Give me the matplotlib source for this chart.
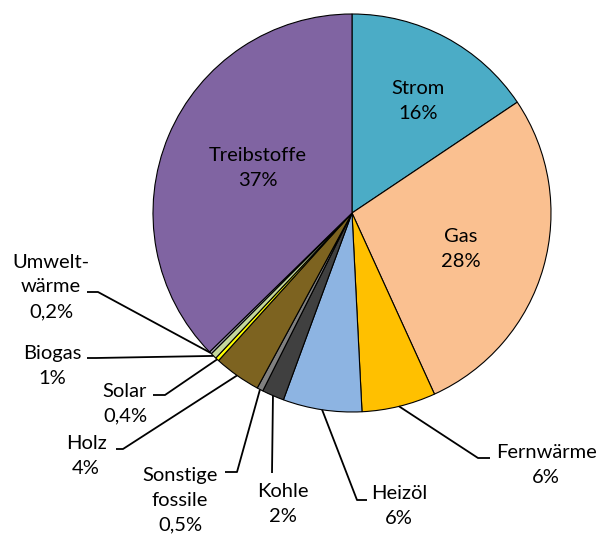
import numpy as np
import matplotlib.pyplot as plt

# Anteile in Prozent, im Uhrzeigersinn ab 12 Uhr
namen = ['Strom', 'Gas', 'Fernwärme', 'Heizöl', 'Kohle', 'Sonstige\nfossile',
         'Holz', 'Solar', 'Biogas', 'Umwelt-\nwärme', 'Treibstoffe']
werte = [15.6, 27.6, 6.0, 6.4, 1.8, 0.5, 3.8, 0.3, 0.5, 0.2, 37.3]
beschriftung = ['16%', '28%', '6%', '6%', '2%', '0,5%', '4%', '0,4%', '1%', '0,2%', '37%']
farben = ['#4BACC6', '#FAC090', '#FFC000', '#8DB4E2', '#404040', '#808080',
          '#7D6320', '#FFFF00', '#C4D79B', '#A5A5B5', '#8064A2']

# Layout in Pixeln (Mitte 352/213, Radius 199)
cx, cy, R = 352, 213, 199
W, H = 601, 537


def p2d(px, py):
    return (px - cx) / R, (cy - py) / R


# Textpositionen innen
innen = {0: (418, 101), 1: (461, 249), 10: (258, 168)}
# Textpositionen aussen + Knick + Ende der Fuehrungslinie
aussen = {
    2: ((546, 465), (478, 458), (490, 458)),
    3: ((399, 506), (357, 500), (367, 500)),
    4: ((283, 504), (272, 473), (272, 473)),
    5: ((180, 500), (237, 472), (225, 472)),
    6: ((86, 456), (123, 449), (116, 449)),
    7: ((125, 404), (165, 395), (153, 395)),
    8: ((52, 366), (96, 358), (87, 358)),
    9: ((51, 287), (98, 292), (87, 292)),
}

plt.rcParams['font.family'] = ['Lato', 'DejaVu Sans']
fig = plt.figure(figsize=(W / 100, H / 100), dpi=100)
ax = fig.add_axes([0, 0, 1, 1])

wedges, _ = ax.pie(werte, colors=farben, startangle=90, counterclock=False,
                   radius=1, wedgeprops=dict(edgecolor='black', linewidth=0.8))
ax.set_xlim(-cx / R, (W - cx) / R)
ax.set_ylim(-(H - cy) / R, cy / R)
ax.set_aspect('equal')
ax.axis('off')

fs = 14.5
ls = 1.55
for i, w in enumerate(wedges):
    text = namen[i] + '\n' + beschriftung[i]
    if i in innen:
        x, y = p2d(*innen[i])
        ax.text(x, y, text, ha='center', va='center', fontsize=fs,
                linespacing=ls, color='black')
    else:
        tpos, knick, ende = aussen[i]
        mid = np.deg2rad((w.theta1 + w.theta2) / 2)
        ax_x, ax_y = np.cos(mid), np.sin(mid)
        kx, ky = p2d(*knick)
        ex, ey = p2d(*ende)
        ax.plot([ax_x, kx, ex], [ax_y, ky, ey], color='black', lw=1.3,
                solid_capstyle='butt')
        tx, ty = p2d(*tpos)
        ax.text(tx, ty, text, ha='center', va='center', fontsize=fs,
                linespacing=ls, color='black')

fig.savefig('out.png', dpi=100)
